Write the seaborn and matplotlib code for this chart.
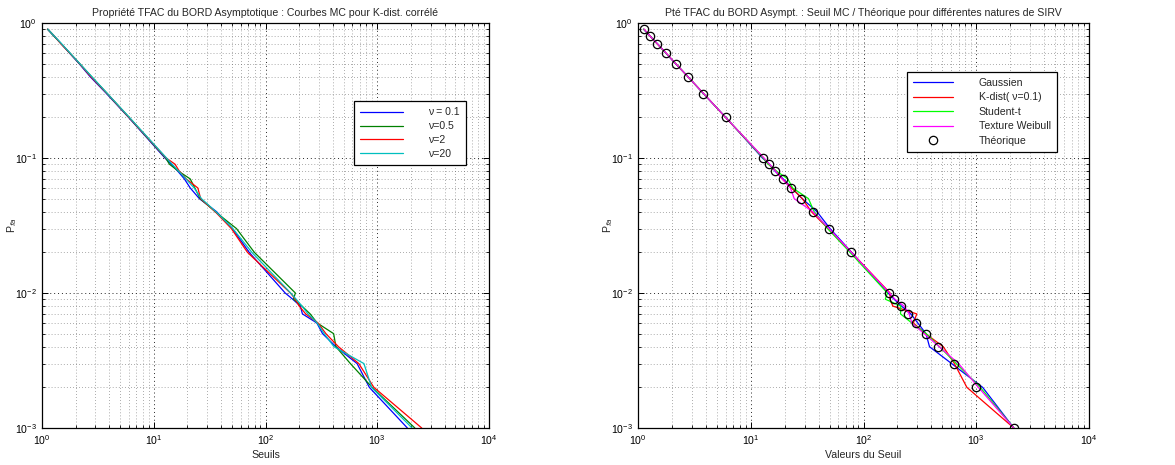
import matplotlib
matplotlib.use("Agg")
import matplotlib.pyplot as plt
import seaborn as sns
import pandas as pd
from matplotlib.ticker import LogLocator, LogFormatterSciNotation, NullFormatter

# ---------------- data ----------------
pfa = [0.9, 0.8, 0.7, 0.6, 0.5, 0.4, 0.3, 0.2, 0.1,
       0.09, 0.08, 0.07, 0.06, 0.05, 0.04, 0.03, 0.02, 0.01,
       0.009, 0.008, 0.007, 0.006, 0.005, 0.004, 0.003, 0.002, 0.001]

# Left panel: MC thresholds for correlated K-dist clutter
left_labels = ["\u03bd = 0.1", "\u03bd=0.5", "\u03bd=2", "\u03bd=20"]
left_nu01 = [1.12, 1.28, 1.49, 1.76, 2.15, 2.70, 3.78, 5.95, 12.6,
             14.3, 16.4, 18.8, 21.2, 25.6, 36.5, 50.5, 71.5, 150,
             175, 205, 214, 288, 324, 427, 660, 850, 1860]
left_nu05 = [1.12, 1.28, 1.49, 1.77, 2.17, 2.78, 3.83, 6.0, 12.8,
             13.8, 16.6, 21.2, 23.3, 26.0, 35.5, 55.0, 79.5, 185,
             178, 212, 251, 290, 407, 427, 575, 900, 2170]
left_nu2 = [1.13, 1.29, 1.48, 1.77, 2.17, 2.74, 3.83, 6.0, 12.9,
            15.5, 16.9, 19.5, 24.8, 26.3, 35.5, 49.5, 69.0, 167,
            185, 200, 229, 295, 347, 450, 684, 933, 2500]
left_nu20 = [1.13, 1.29, 1.50, 1.78, 2.18, 2.79, 3.85, 6.05, 13.0,
             14.6, 16.7, 19.4, 23.0, 26.7, 36.0, 51.0, 75.5, 168,
             188, 212, 240, 290, 335, 410, 760, 890, 2050]

# Right panel: MC thresholds for various SIRV natures + theoretical values
right_labels = ["Gaussien", "K-dist( \u03bd=0.1)", "Student-t", "Texture Weibull", "Th\u00e9orique"]
right_gauss = [1.12, 1.28, 1.49, 1.76, 2.15, 2.78, 3.80, 6.0, 12.7,
               14.6, 16.4, 19.4, 23.2, 28.6, 38.7, 50.5, 78.5, 165,
               187, 217, 263, 303, 358, 385, 605, 1140, 2154]
right_kdist = [1.13, 1.28, 1.48, 1.77, 2.16, 2.77, 3.82, 5.97, 13.0,
               14.4, 16.7, 19.0, 23.0, 28.7, 34.5, 48.5, 78.0, 172,
               172, 182, 297, 277, 355, 510, 640, 826, 2154]
right_student = [1.12, 1.28, 1.49, 1.76, 2.16, 2.77, 3.81, 5.99, 12.9,
                 14.3, 16.9, 21.3, 23.5, 32.5, 36.5, 48.0, 76.0, 163,
                 156, 214, 213, 268, 360, 472, 665, 1085, 2154]
right_weibull = [1.13, 1.28, 1.49, 1.77, 2.16, 2.77, 3.82, 5.98, 13.1,
                 14.7, 16.6, 19.0, 22.5, 24.3, 35.5, 49.5, 78.0, 170,
                 190, 229, 254, 268, 345, 470, 697, 1045, 2154]
theory = [1.124, 1.281, 1.486, 1.764, 2.160, 2.768, 3.81, 5.98, 12.9,
          14.5, 16.55, 19.2, 22.8, 27.9, 35.7, 49.2, 77.2, 166.8,
          187.5, 213.6, 247.9, 294, 360, 461, 635, 997, 2154]

# ---------------- style ----------------
sns.set_theme(style="white")
plt.rcParams["font.family"] = ["Liberation Sans", "DejaVu Sans"]
plt.rcParams["axes.edgecolor"] = "black"
plt.rcParams["axes.linewidth"] = 0.9

fig = plt.figure(figsize=(11.75, 4.65), dpi=100)
ax1 = fig.add_axes([42 / 1175, 37 / 465, 447 / 1175, 405 / 465])
ax2 = fig.add_axes([638 / 1175, 37 / 465, 451 / 1175, 405 / 465])

FS = 7.6


def style_axes(ax):
    ax.set_xscale("log")
    ax.set_yscale("log")
    ax.set_xlim(1, 1e4)
    ax.set_ylim(1e-3, 1)
    ax.xaxis.set_major_locator(LogLocator(base=10, numticks=10))
    ax.yaxis.set_major_locator(LogLocator(base=10, numticks=10))
    ax.xaxis.set_minor_locator(LogLocator(base=10, subs=range(2, 10), numticks=20))
    ax.yaxis.set_minor_locator(LogLocator(base=10, subs=range(2, 10), numticks=20))
    ax.xaxis.set_major_formatter(LogFormatterSciNotation())
    ax.yaxis.set_major_formatter(LogFormatterSciNotation())
    ax.xaxis.set_minor_formatter(NullFormatter())
    ax.yaxis.set_minor_formatter(NullFormatter())
    ax.tick_params(which="both", direction="in", top=True, right=True,
                   bottom=True, left=True, colors="black", labelsize=FS)
    ax.tick_params(which="major", length=4, width=0.7, pad=4)
    ax.tick_params(which="minor", length=2.2, width=0.6)
    ax.grid(True, which="major", linestyle=(0, (1, 3)), color="black", linewidth=0.7, alpha=0.85)
    ax.grid(True, which="minor", linestyle=(0, (1, 3)), color="0.35", linewidth=0.55, alpha=0.8)
    for s in ax.spines.values():
        s.set_visible(True)
        s.set_color("black")
        s.set_linewidth(0.9)
    ax.set_axisbelow(True)


# ---------------- left panel ----------------
left_series = [left_nu01, left_nu05, left_nu2, left_nu20]
left_colors = ["#0000ff", "#008000", "#ff0000", "#00bfbf"]
for vals, lab, col in zip(left_series, left_labels, left_colors):
    df = pd.DataFrame({"seuil": vals, "pfa": pfa})
    sns.lineplot(data=df, x="seuil", y="pfa", ax=ax1, color=col, label=lab,
                 sort=False, estimator=None, linewidth=0.9)
style_axes(ax1)
ax1.set_title("Propri\u00e9t\u00e9 TFAC du BORD Asymptotique : Courbes MC pour K-dist. corr\u00e9l\u00e9",
              fontsize=FS, pad=5)
ax1.set_xlabel("Seuils", fontsize=FS, labelpad=2)
ax1.set_ylabel("P$_{fa}$", fontsize=FS)
ax1.yaxis.set_label_coords(-0.052, 0.5)
leg1 = ax1.legend(loc="upper left", bbox_to_anchor=(0.698, 0.807), fontsize=FS,
                  frameon=True, fancybox=False, framealpha=1, edgecolor="black",
                  handlelength=4.0, handletextpad=2.4, borderpad=0.6, labelspacing=0.36,
                  borderaxespad=0)
leg1.get_frame().set_linewidth(0.9)

# ---------------- right panel ----------------
right_series = [right_gauss, right_kdist, right_student, right_weibull]
right_colors = ["#0000ff", "#ff0000", "#00ff00", "#ff00ff"]
for vals, lab, col in zip(right_series, right_labels[:4], right_colors):
    df = pd.DataFrame({"seuil": vals, "pfa": pfa})
    sns.lineplot(data=df, x="seuil", y="pfa", ax=ax2, color=col, label=lab,
                 sort=False, estimator=None, linewidth=0.9)
dft = pd.DataFrame({"seuil": theory, "pfa": pfa})
sns.lineplot(data=dft, x="seuil", y="pfa", ax=ax2, color="black", label=right_labels[4],
             sort=False, estimator=None, linestyle="none", marker="o",
             markerfacecolor="none", markeredgecolor="black", markersize=6, markeredgewidth=0.9)
style_axes(ax2)
ax2.set_title("Pt\u00e9 TFAC du BORD Asympt. : Seuil MC / Th\u00e9orique pour diff\u00e9rentes natures de SIRV",
              fontsize=FS, pad=5)
ax2.set_xlabel("Valeurs du Seuil", fontsize=FS, labelpad=2)
ax2.set_ylabel("P$_{fa}$", fontsize=FS)
ax2.yaxis.set_label_coords(-0.052, 0.5)
leg2 = ax2.legend(loc="upper left", bbox_to_anchor=(0.596, 0.880), fontsize=FS,
                  frameon=True, fancybox=False, framealpha=1, edgecolor="black",
                  handlelength=3.8, handletextpad=2.4, borderpad=0.6, labelspacing=0.42,
                  borderaxespad=0)
leg2.get_frame().set_linewidth(0.9)

fig.savefig("out.png", dpi=100, facecolor="white")
